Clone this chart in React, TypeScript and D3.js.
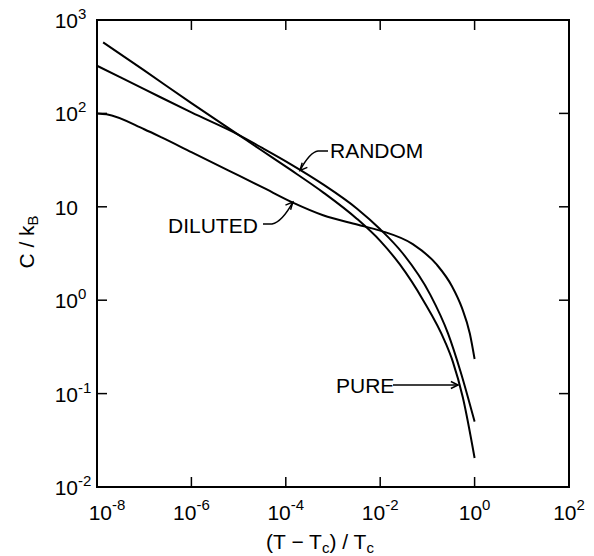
import React from 'react'
import * as d3 from 'd3'

// curves, as log10 values
const pureLogT = [-7.87, -7, -6, -5, -4.5, -3.91, -3.21, -2.49, -2.0, -1.58, -1.09, -0.63, -0.46, -0.25, 0]
const pureLogC = [2.76, 2.46, 2.11, 1.77, 1.6, 1.4, 1.155, 0.87, 0.635, 0.38, 0.0, -0.44, -0.66, -1.04, -1.69]

const randomLogT = [-8, -7, -6, -5, -4.5, -3.91, -3.21, -2.49, -2.0, -1.52, -0.94, -0.56, -0.3, 0]
const randomLogC = [2.51, 2.26, 2.01, 1.77, 1.63, 1.46, 1.24, 0.98, 0.76, 0.5, 0.06, -0.36, -0.76, -1.3]

const dilutedLogT = [-8, -7.8, -7, -6.62, -6, -5.22, -4.5, -3.85, -3.21, -2.49, -2.0, -1.31, -0.8, -0.48, -0.27, -0.1, 0]
const dilutedLogC = [2.0, 1.99, 1.83, 1.74, 1.585, 1.39, 1.21, 1.045, 0.91, 0.81, 0.745, 0.6, 0.38, 0.15, -0.08, -0.36, -0.63]

const xTickExps = [-8, -6, -4, -2, 0, 2]
const yTickExps = [-2, -1, 0, 1, 2, 3]
const xTitle = '(T − T'
const yTitle = 'C / k'

const W = 594
const H = 556
const font = '"Liberation Sans", Arial, sans-serif'

const x = d3.scaleLog().domain([1e-8, 1e2]).range([97, 569])
const y = d3.scaleLog().domain([1e-2, 1e3]).range([487, 20])

const line = d3.line<[number, number]>()
  .x(d => x(Math.pow(10, d[0])))
  .y(d => y(Math.pow(10, d[1])))
  .curve(d3.curveMonotoneX)

const zip = (a: number[], b: number[]) => a.map((v, i) => [v, b[i]] as [number, number])

// small open arrow head at (tx,ty) coming from (fromX,fromY)
const arrowHead = (tx: number, ty: number, fromX: number, fromY: number) => {
  const a = Math.atan2(ty - fromY, tx - fromX)
  const len = 8, spread = 0.45
  const p1 = [tx - len * Math.cos(a - spread), ty - len * Math.sin(a - spread)]
  const p2 = [tx - len * Math.cos(a + spread), ty - len * Math.sin(a + spread)]
  return `M${p1[0]},${p1[1]}L${tx},${ty}L${p2[0]},${p2[1]}`
}

export default function App() {
  const [x0, x1] = x.range()
  const [y0, y1] = y.range()

  // annotation tips on the curves
  const rTip = [x(Math.pow(10, -3.7)), y(Math.pow(10, 1.39))]
  const dTip = [x(Math.pow(10, -3.85)), y(Math.pow(10, 1.05))]
  const pTip = [x(Math.pow(10, -0.35)), 385]

  return (
    <svg width={W} height={H} style={{ position: 'absolute', left: 0, top: 0, background: '#fff' }}
      fontFamily={font}>
      {/* frame */}
      <rect x={x0} y={y1} width={x1 - x0} height={y0 - y1} fill="none" stroke="#000" strokeWidth={2} />

      {/* x ticks, inward top and bottom */}
      {xTickExps.slice(1, -1).map(e => (
        <g key={'xt' + e}>
          <line x1={x(Math.pow(10, e))} x2={x(Math.pow(10, e))} y1={y0} y2={y0 - 10} stroke="#000" strokeWidth={1.5} />
          <line x1={x(Math.pow(10, e))} x2={x(Math.pow(10, e))} y1={y1} y2={y1 + 10} stroke="#000" strokeWidth={1.5} />
        </g>
      ))}
      {/* y ticks, inward left and right */}
      {yTickExps.slice(1, -1).map(e => (
        <g key={'yt' + e}>
          <line x1={x0} x2={x0 + 10} y1={y(Math.pow(10, e))} y2={y(Math.pow(10, e))} stroke="#000" strokeWidth={1.5} />
          <line x1={x1} x2={x1 - 10} y1={y(Math.pow(10, e))} y2={y(Math.pow(10, e))} stroke="#000" strokeWidth={1.5} />
        </g>
      ))}

      {/* x tick labels */}
      {xTickExps.map((e, i) => (
        <text key={'xl' + e} x={x(Math.pow(10, e)) + (i === 0 ? 10 : 0)} y={520} textAnchor="middle" fontSize={21}>
          <tspan>10</tspan>
          <tspan dy={-10} fontSize={15}>{String(e)}</tspan>
        </text>
      ))}

      {/* y tick labels */}
      {yTickExps.map(e => (
        <g key={'yl' + e}>
          <text x={78} y={y(Math.pow(10, e)) + 8} textAnchor="end" fontSize={21}>10</text>
          {e !== 1 && (
            <text x={78} y={y(Math.pow(10, e)) - 1} fontSize={15}>{String(e)}</text>
          )}
        </g>
      ))}

      {/* axis titles */}
      <text x={320} y={549} textAnchor="middle" fontSize={21}>
        {xTitle}<tspan dy={4} fontSize={15}>c</tspan><tspan dy={-4}>) / T</tspan><tspan dy={4} fontSize={15}>c</tspan>
      </text>
      <text transform="translate(34,242) rotate(-90)" textAnchor="middle" fontSize={21}>
        {yTitle}<tspan dy={4} fontSize={15}>B</tspan>
      </text>

      {/* curves */}
      {[zip(pureLogT, pureLogC), zip(randomLogT, randomLogC), zip(dilutedLogT, dilutedLogC)].map((d, i) => (
        <path key={'c' + i} d={line(d) || ''} fill="none" stroke="#000" strokeWidth={2} />
      ))}

      {/* RANDOM label */}
      <text x={330} y={158} fontSize={21}>RANDOM</text>
      <path d={`M328,151L318,151Q310,152 ${rTip[0]},${rTip[1]}`} fill="none" stroke="#000" strokeWidth={1.5} />
      <path d={arrowHead(rTip[0], rTip[1], 312, 157)} fill="none" stroke="#000" strokeWidth={1.5} />

      {/* DILUTED label */}
      <text x={168} y={233} fontSize={21}>DILUTED</text>
      <path d={`M263,224L272,224Q282,222 ${dTip[0]},${dTip[1]}`} fill="none" stroke="#000" strokeWidth={1.5} />
      <path d={arrowHead(dTip[0], dTip[1], 282, 214)} fill="none" stroke="#000" strokeWidth={1.5} />

      {/* PURE label */}
      <text x={336} y={393} fontSize={21}>PURE</text>
      <path d={`M393,385L${pTip[0]},385`} fill="none" stroke="#000" strokeWidth={1.5} />
      <path d={arrowHead(pTip[0], pTip[1], 393, 385)} fill="none" stroke="#000" strokeWidth={1.5} />
    </svg>
  )
}
